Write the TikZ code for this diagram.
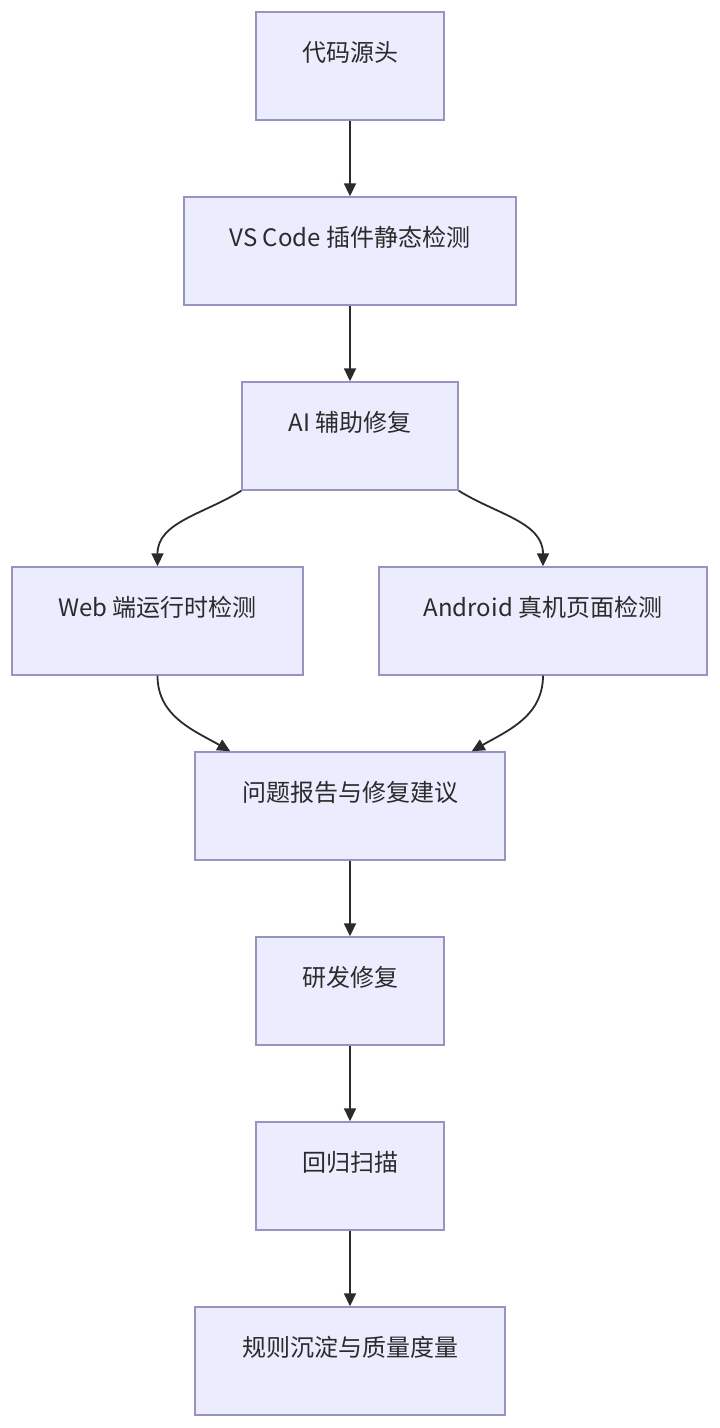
\documentclass[tikz,border=0pt]{standalone}
\usepackage{fontspec}
\setmainfont{Noto Sans CJK SC}
\usetikzlibrary{arrows.meta}
\definecolor{boxfill}{HTML}{ECECFF}
\definecolor{boxline}{HTML}{9893C0}
\definecolor{ink}{HTML}{2B2B2B}
\begin{document}
\begin{tikzpicture}[x=1pt,y=-1pt,
  flowbox/.style={draw=boxline, fill=boxfill, line width=1.4pt, rectangle,
    minimum height=108pt, text=ink, font=\fontsize{24}{28}\selectfont,
    text height=18pt, text depth=27pt, inner sep=0pt},
  flowline/.style={draw=ink, line width=1.8pt, -{Triangle[length=13pt,width=12pt]}}]
\useasboundingbox (0,0) rectangle (720,1428);
\fill[white] (0,0) rectangle (720,1428);
\node[flowbox, minimum width=188pt] (src) at (350,66) {代码源头};
\node[flowbox, minimum width=332pt] (vsc) at (350,251) {VS Code 插件静态检测};
\node[flowbox, minimum width=216pt] (ai) at (350,436) {AI 辅助修复};
\node[flowbox, minimum width=291pt] (web) at (157.5,621) {Web 端运行时检测};
\node[flowbox, minimum width=328pt] (and) at (543,621) {Android 真机页面检测};
\node[flowbox, minimum width=310pt] (prob) at (350,806) {问题报告与修复建议};
\node[flowbox, minimum width=188pt] (dev) at (350,991) {研发修复};
\node[flowbox, minimum width=188pt] (reg) at (350,1176) {回归扫描};
\node[flowbox, minimum width=310pt] (rule) at (350,1361) {规则沉淀与质量度量};
\coordinate (probL) at ([xshift=36pt]prob.north west);
\coordinate (probR) at ([xshift=-34pt]prob.north east);
\draw[flowline] (src.south) -- (vsc.north);
\draw[flowline] (vsc.south) -- (ai.north);
\draw[flowline] (ai.south west) to[out=-148,in=90] (web.north);
\draw[flowline] (ai.south east) to[out=-32,in=90] (and.north);
\draw[flowline] (web.south) to[out=-90,in=150] (probL);
\draw[flowline] (and.south) to[out=-90,in=30] (probR);
\draw[flowline] (prob.south) -- (dev.north);
\draw[flowline] (dev.south) -- (reg.north);
\draw[flowline] (reg.south) -- (rule.north);
\end{tikzpicture}
\end{document}
